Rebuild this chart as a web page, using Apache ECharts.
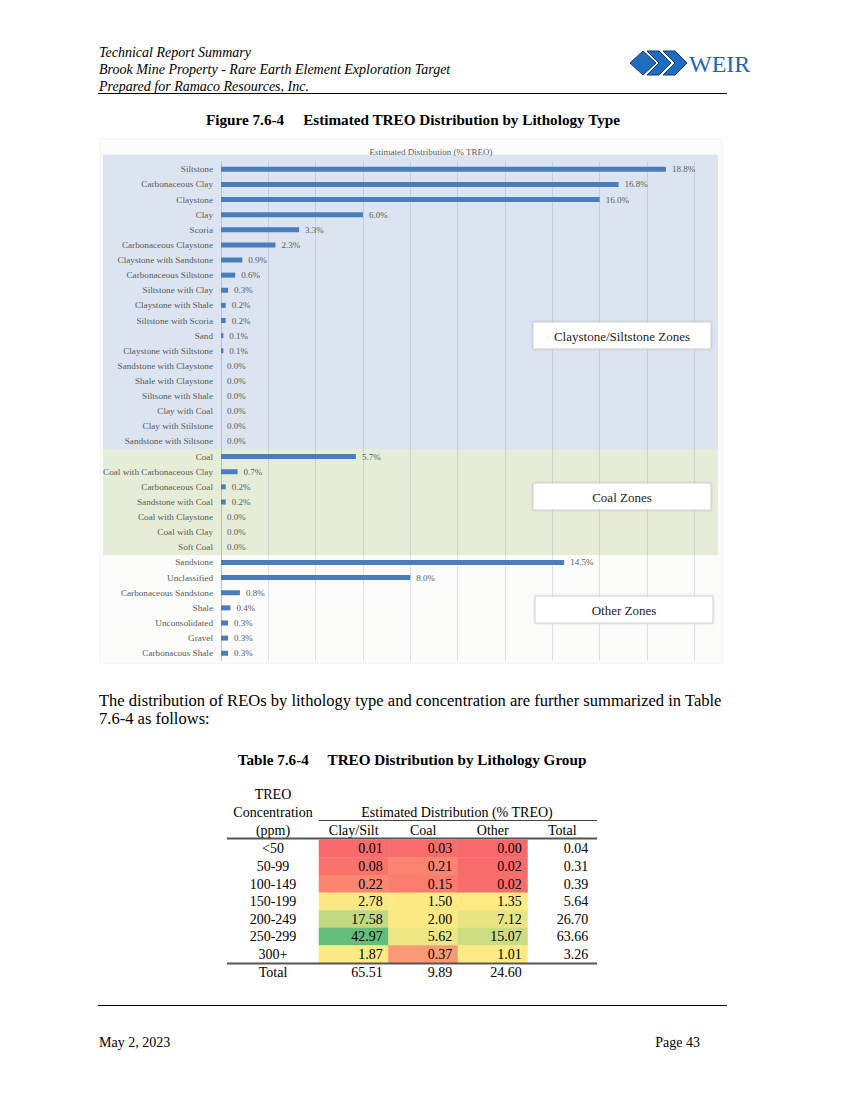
<!DOCTYPE html>
<html>
<head>
<meta charset="utf-8">
<script src="https://cdn.jsdelivr.net/npm/echarts@6/dist/echarts.min.js"></script>
<style>
html,body{margin:0;padding:0;background:#fff;}
#page{width:849px;height:1100px;}
</style>
</head>
<body>
<div id="page"></div>
<script>
// ---------- Figure data ----------
const categories = [
  'Siltstone','Carbonaceous Clay','Claystone','Clay','Scoria','Carbonaceous Claystone',
  'Claystone with Sandstone','Carbonaceous Siltstone','Siltstone with Clay','Claystone with Shale',
  'Siltstone with Scoria','Sand','Claystone with Siltstone','Sandstone with Claystone',
  'Shale with Claystone','Siltsone with Shale','Clay with Coal','Clay with Stilstone',
  'Sandstone with Siltsone',
  'Coal','Coal with Carbonaceous Clay','Carbonaceous Coal','Sandstone with Coal',
  'Coal with Claystone','Coal with Clay','Soft Coal',
  'Sandstone','Unclassified','Carbonaceous Sandstone','Shale','Unconsolidated','Gravel','Carbonacous Shale'
];
const values = [
  18.8,16.8,16.0,6.0,3.3,2.3,0.9,0.6,0.3,0.2,0.2,0.1,0.1,0.0,0.0,0.0,0.0,0.0,0.0,
  5.7,0.7,0.2,0.2,0.0,0.0,0.0,
  14.5,8.0,0.8,0.4,0.3,0.3,0.3
];
const zoneNames = ['Claystone/Siltstone Zones','Coal Zones','Other Zones'];
const zoneSizes = [19,7,7];
const xTickInterval = 2;

// ---------- Table data ----------
const tableRows = ['<50','50-99','100-149','150-199','200-249','250-299','300+'];
const tableCols = ['Clay/Silt','Coal','Other'];
const claySilt = [0.01,0.08,0.22,2.78,17.58,42.97,1.87];
const coal     = [0.03,0.21,0.15,1.50,2.00,5.62,0.37];
const other    = [0.00,0.02,0.02,1.35,7.12,15.07,1.01];
const rowTotals = [0.04,0.31,0.39,5.64,26.70,63.66,3.26];
const colTotals = [65.51,9.89,24.60];

const SERIF = '"Liberation Serif","Times New Roman",serif';

// Excel-like 3-colour scale (min red, median yellow, max green)
const allVals = claySilt.concat(coal, other);
const sorted = allVals.slice().sort((a,b)=>a-b);
const vMin = sorted[0], vMax = sorted[sorted.length-1];
const vMid = sorted[Math.floor(sorted.length/2)];
function mix(a,b,t){return 'rgb('+a.map((c,i)=>Math.round(c+(b[i]-c)*t)).join(',')+')';}
function scaleColor(v){
  const R=[248,105,107],Y=[255,235,132],G=[99,190,123];
  if (v<=vMid) return mix(R,Y,(v-vMin)/(vMid-vMin));
  return mix(Y,G,(v-vMid)/(vMax-vMid));
}

const colSeries = [claySilt, coal, other];
const heatData = [];
colSeries.forEach((arr,c)=>arr.forEach((v,r)=>{
  heatData.push({value:[c,r,v], itemStyle:{color:scaleColor(v)}});
}));
rowTotals.forEach((v,r)=>heatData.push({value:[3,r,v], itemStyle:{color:'rgba(0,0,0,0)'}, label:{distance:9}}));
colTotals.forEach((v,c)=>heatData.push({value:[c,7,v], itemStyle:{color:'rgba(0,0,0,0)'}}));

const chart = echarts.init(document.getElementById('page'), null, {renderer:'svg', width:849, height:1100});

function txt(id, text, x, y, opts, z){
  return {type:'text', id:id, z:(z||5), style:Object.assign({
    text:text, x:x, y:y, fontFamily:SERIF, fontSize:14, fill:'#000',
    textAlign:'left', textVerticalAlign:'middle'}, opts||{})};
}
function line(id,x1,y1,x2,y2,w,color){
  return {type:'line', id:id, z:5, shape:{x1:x1,y1:y1,x2:x2,y2:y2}, style:{stroke:color||'#000', lineWidth:w||1}};
}
function box(id,x,y){
  return {type:'rect', id:id, z:6, shape:{x:x,y:y,width:178,height:27},
    style:{fill:'#fff',stroke:'#cfcfcf',lineWidth:1,shadowBlur:2,shadowColor:'rgba(0,0,0,0.15)'}};
}

const staticGraphics = [
  // page header
  txt('h1','Technical Report Summary',99,52,{fontStyle:'italic'}),
  txt('h2','Brook Mine Property - Rare Earth Element Exploration Target',99,69,{fontStyle:'italic'}),
  txt('h3','Prepared for Ramaco Resources, Inc.',99,86,{fontStyle:'italic'}),
  line('hr1',98,93.5,727,93.5,1,'#000'),
  {type:'polygon', id:'d1', z:5, shape:{points:[[630,63],[643,51],[656,63],[643,75]]}, style:{fill:'#1f6cc0',stroke:'#0d3d73',lineWidth:1}},
  {type:'polygon', id:'d2', z:5, shape:{points:[[647,51],[659,51],[671,63],[659,75],[647,75],[659,63]]}, style:{fill:'#1f6cc0',stroke:'#0d3d73',lineWidth:1}},
  {type:'polygon', id:'d3', z:5, shape:{points:[[663,51],[675,51],[687,63],[675,75],[663,75],[675,63]]}, style:{fill:'#1f6cc0',stroke:'#0d3d73',lineWidth:1}},
  txt('weir','WEIR',689,64,{fontSize:24,fill:'#1f63b3'}),
  // figure caption
  txt('figcap','Figure 7.6-4     Estimated TREO Distribution by Lithology Type',413,119,{fontWeight:'bold',fontSize:15.2,textAlign:'center'}),
  // zone boxes
  box('bx1',533,322),
  txt('bt1',zoneNames[0],622,336,{fontSize:13,textAlign:'center',fill:'#222'},8),
  box('bx2',533,483),
  txt('bt2',zoneNames[1],622,497,{fontSize:13,textAlign:'center',fill:'#222'},8),
  box('bx3',535,596),
  txt('bt3',zoneNames[2],624,610,{fontSize:13,textAlign:'center',fill:'#222'},8),
  // body text
  txt('p1','The distribution of REOs by lithology type and concentration are further summarized in Table',99,700,{fontSize:16.55}),
  txt('p2','7.6-4 as follows:',99,718,{fontSize:16.55}),
  txt('tcap','Table 7.6-4     TREO Distribution by Lithology Group',412,759,{fontWeight:'bold',fontSize:15.2,textAlign:'center'}),
  // table header
  txt('th1','TREO',273,794,{textAlign:'center'}),
  txt('th2','Concentration',273,812,{textAlign:'center'}),
  txt('th3','(ppm)',273,830,{textAlign:'center'}),
  txt('th4','Estimated Distribution (% TREO)',457,812,{textAlign:'center'}),
  line('tl1',319,820.5,597,820.5,1,'#444'),
  line('tl2',227,838.5,597,838.5,2,'#555'),
  line('tl3',227,963.5,597,963.5,2,'#555'),
  // footer
  line('fr',98,1005.5,727,1005.5,1,'#000'),
  txt('f1','May 2, 2023',99,1042,{fontSize:14}),
  txt('f2','Page 43',700,1042,{fontSize:14,textAlign:'right'})
];

const option = {
  backgroundColor:'#fff',
  animation:false,
  title:{text:'Estimated Distribution (% TREO)', left:426, top:142, textAlign:'center',
    textStyle:{fontFamily:SERIF,fontSize:9,fontWeight:'normal',color:'#595959'}},
  grid:[
    {left:221, right:131, top:161.7, height:499.1, containLabel:false},
    {left:319, top:840, width:278, height:140.8, containLabel:false}
  ],
  xAxis:[
    {type:'value', gridIndex:0, min:0, max:21, interval:xTickInterval,
     axisLabel:{show:false}, axisLine:{show:false}, axisTick:{show:false},
     splitLine:{show:true, showMinLine:false, showMaxLine:false, lineStyle:{color:'rgba(110,125,150,0.22)',width:1}}},
    {type:'category', gridIndex:1, position:'top', data:tableCols.concat(['Total']),
     axisLine:{show:false}, axisTick:{show:false}, splitLine:{show:false},
     axisLabel:{interval:0, margin:3, fontFamily:SERIF, fontSize:14, color:'#000'}}
  ],
  yAxis:[
    {type:'category', gridIndex:0, inverse:true, data:categories,
     axisLine:{show:true, lineStyle:{color:'#b8c0cc'}}, axisTick:{show:false},
     axisLabel:{interval:0, margin:8, fontFamily:SERIF, fontSize:9.2, color:'#5a5a5a'}},
    {type:'category', gridIndex:1, inverse:true, data:tableRows.concat(['Total']),
     axisLine:{show:false}, axisTick:{show:false}, splitLine:{show:false},
     axisLabel:{interval:0, margin:46, align:'center', fontFamily:SERIF, fontSize:14, color:'#000'}}
  ],
  series:[
    {type:'bar', xAxisIndex:0, yAxisIndex:0, data:values, barWidth:5,
     itemStyle:{color:'#4a7dbc'},
     label:{show:true, position:'right', distance:6, fontFamily:SERIF, fontSize:9, color:'#5a5a5a',
       formatter:p=>p.value.toFixed(1)+'%'},
     emphasis:{disabled:true}},
    {type:'heatmap', xAxisIndex:1, yAxisIndex:1, data:heatData,
     label:{show:true, position:'insideRight', distance:6, fontFamily:SERIF, fontSize:14, color:'#000',
       formatter:p=>p.value[2].toFixed(2)},
     emphasis:{disabled:true}}
  ],
  graphic: staticGraphics
};
chart.setOption(option);

// zone background bands, positioned from the category axis
const c0 = chart.convertToPixel({yAxisIndex:0}, categories[0]);
const cN = chart.convertToPixel({yAxisIndex:0}, categories[categories.length-1]);
const step = (cN - c0)/(categories.length-1);
const bandColors = ['#dbe4f0','#e5edd8','#fbfcfa'];
let start = 0;
const bands = [];
zoneSizes.forEach((n,i)=>{
  let y0 = c0 + (start-0.5)*step;
  const y1 = c0 + (start+n-0.5)*step;
  if (i===0) y0 -= 7;
  bands.push({type:'rect', id:'band'+i, z:-10, shape:{x:103,y:y0,width:615,height:y1-y0}, style:{fill:bandColors[i]}});
  start += n;
});
bands.push({type:'rect', id:'frame', z:-11, shape:{x:100,y:139,width:622,height:524}, style:{fill:'#fcfcfc',stroke:'#f0f0f0',lineWidth:1}});
chart.setOption({graphic: staticGraphics.concat(bands)});
</script>
</body>
</html>
